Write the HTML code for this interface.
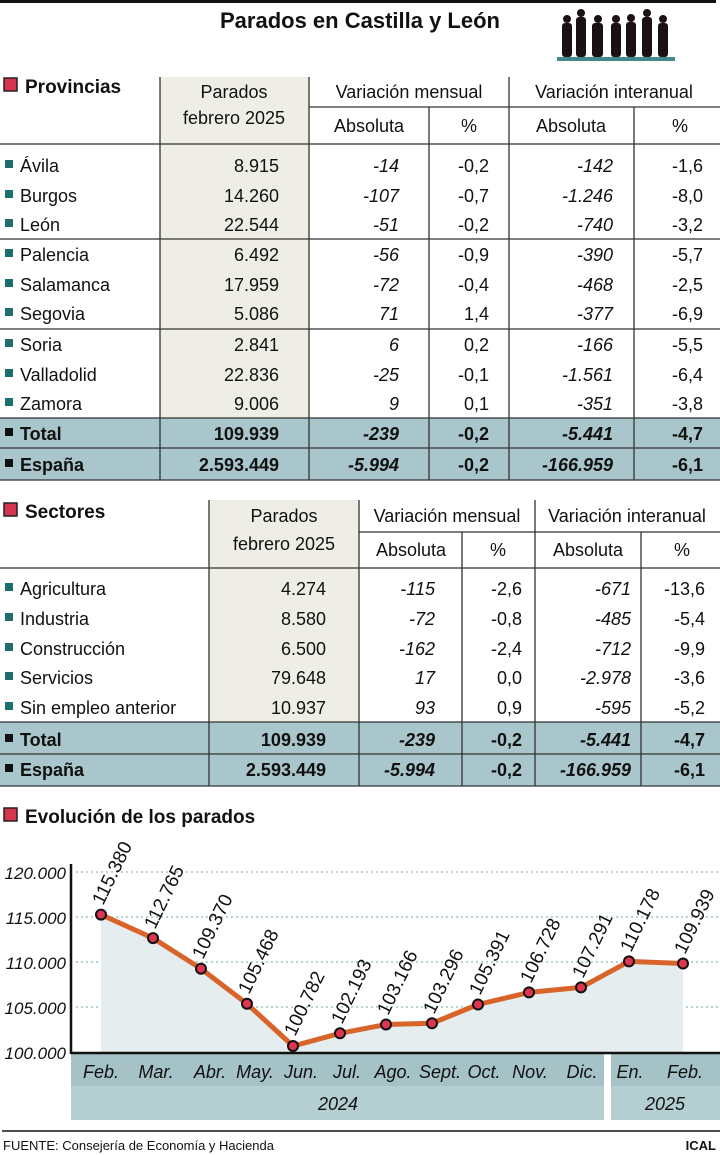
<!DOCTYPE html>
<html><head><meta charset="utf-8"><style>
html,body{margin:0;padding:0;background:#fff}
svg{display:block}
text{font-family:"Liberation Sans",sans-serif;fill:#111}
.t{font-size:18px}
.i{font-style:italic}
.b{font-weight:bold}
</style></head><body>
<svg width="720" height="1155" viewBox="0 0 720 1155" xmlns="http://www.w3.org/2000/svg">
<rect x="0" y="0" width="716" height="3" fill="#111"/>
<text x="360" y="28" text-anchor="middle" class="b" font-size="22">Parados en Castilla y León</text>
<g fill="#1a1212">
<rect x="557" y="57" width="118" height="4" fill="#3f8a8c"/>
<circle cx="567" cy="19" r="4"/><rect x="562" y="23" width="10" height="34" rx="3"/>
<circle cx="581" cy="13" r="4"/><rect x="576" y="17" width="10" height="40" rx="3"/>
<circle cx="598" cy="19" r="4"/><rect x="592" y="23" width="11" height="34" rx="3"/>
<circle cx="616" cy="19" r="4"/><rect x="611" y="23" width="10" height="34" rx="3"/>
<circle cx="631" cy="18" r="4"/><rect x="626" y="22" width="10" height="35" rx="3"/>
<circle cx="647" cy="13" r="4"/><rect x="642" y="17" width="10" height="40" rx="3"/>
<circle cx="663" cy="19" r="4"/><rect x="658" y="23" width="10" height="34" rx="3"/>
</g>

<rect x="4" y="78" width="13" height="13" fill="#d8344f" stroke="#222" stroke-width="1.5"/>
<text x="25" y="93" class="b" font-size="19">Provincias</text>
<rect x="160" y="77" width="149" height="341" fill="#efeee6"/>
<rect x="0" y="418" width="720" height="62" fill="#a9c6cc"/>
<g stroke="#333" stroke-width="1.3">
<line x1="309" y1="107" x2="720" y2="107"/>
<line x1="0" y1="144" x2="720" y2="144"/>
<line x1="0" y1="239" x2="720" y2="239"/>
<line x1="0" y1="329" x2="720" y2="329"/>
<line x1="0" y1="418" x2="720" y2="418"/>
<line x1="0" y1="448" x2="720" y2="448"/>
<line x1="0" y1="480" x2="720" y2="480"/>
<line x1="160" y1="77" x2="160" y2="480"/>
<line x1="309" y1="77" x2="309" y2="480"/>
<line x1="429" y1="107" x2="429" y2="480"/>
<line x1="509" y1="77" x2="509" y2="480"/>
<line x1="634" y1="107" x2="634" y2="480"/>
</g>
<g class="t" text-anchor="middle">
<text x="234" y="98">Parados</text>
<text x="234" y="124">febrero 2025</text>
<text x="409" y="98">Variación mensual</text>
<text x="614" y="98">Variación interanual</text>
<text x="369" y="132">Absoluta</text>
<text x="469" y="132">%</text>
<text x="571" y="132">Absoluta</text>
<text x="680" y="132">%</text>
</g>
<g class="t">
<g fill="#1f6e6e"><rect x="5" y="160" width="8" height="8"/><rect x="5" y="190" width="8" height="8"/><rect x="5" y="219" width="8" height="8"/><rect x="5" y="249" width="8" height="8"/><rect x="5" y="279" width="8" height="8"/><rect x="5" y="308" width="8" height="8"/><rect x="5" y="339" width="8" height="8"/><rect x="5" y="369" width="8" height="8"/><rect x="5" y="398" width="8" height="8"/></g>
<rect x="5" y="428" width="8" height="8" fill="#111"/><rect x="5" y="459" width="8" height="8" fill="#111"/>
<text x="20" y="172">Ávila</text><text x="20" y="202">Burgos</text><text x="20" y="231">León</text>
<text x="20" y="261">Palencia</text><text x="20" y="291">Salamanca</text><text x="20" y="320">Segovia</text>
<text x="20" y="351">Soria</text><text x="20" y="381">Valladolid</text><text x="20" y="410">Zamora</text>
<text x="20" y="440" class="b">Total</text><text x="20" y="471" class="b">España</text>
<g text-anchor="end">
<text x="279" y="172">8.915</text><text x="279" y="202">14.260</text><text x="279" y="231">22.544</text>
<text x="279" y="261">6.492</text><text x="279" y="291">17.959</text><text x="279" y="320">5.086</text>
<text x="279" y="351">2.841</text><text x="279" y="381">22.836</text><text x="279" y="410">9.006</text>
<text x="279" y="440" class="b">109.939</text><text x="279" y="471" class="b">2.593.449</text>
<g class="i">
<text x="399" y="172">-14</text><text x="399" y="202">-107</text><text x="399" y="231">-51</text>
<text x="399" y="261">-56</text><text x="399" y="291">-72</text><text x="399" y="320">71</text>
<text x="399" y="351">6</text><text x="399" y="381">-25</text><text x="399" y="410">9</text>
<text x="399" y="440" class="b">-239</text><text x="399" y="471" class="b">-5.994</text>
<text x="613" y="172">-142</text><text x="613" y="202">-1.246</text><text x="613" y="231">-740</text>
<text x="613" y="261">-390</text><text x="613" y="291">-468</text><text x="613" y="320">-377</text>
<text x="613" y="351">-166</text><text x="613" y="381">-1.561</text><text x="613" y="410">-351</text>
<text x="613" y="440" class="b">-5.441</text><text x="613" y="471" class="b">-166.959</text>
</g>
<text x="489" y="172">-0,2</text><text x="489" y="202">-0,7</text><text x="489" y="231">-0,2</text>
<text x="489" y="261">-0,9</text><text x="489" y="291">-0,4</text><text x="489" y="320">1,4</text>
<text x="489" y="351">0,2</text><text x="489" y="381">-0,1</text><text x="489" y="410">0,1</text>
<text x="489" y="440" class="b">-0,2</text><text x="489" y="471" class="b">-0,2</text>
<text x="703" y="172">-1,6</text><text x="703" y="202">-8,0</text><text x="703" y="231">-3,2</text>
<text x="703" y="261">-5,7</text><text x="703" y="291">-2,5</text><text x="703" y="320">-6,9</text>
<text x="703" y="351">-5,5</text><text x="703" y="381">-6,4</text><text x="703" y="410">-3,8</text>
<text x="703" y="440" class="b">-4,7</text><text x="703" y="471" class="b">-6,1</text>
</g>
</g>

<rect x="4" y="503" width="13" height="13" fill="#d8344f" stroke="#222" stroke-width="1.5"/>
<text x="25" y="518" class="b" font-size="19">Sectores</text>
<rect x="209" y="500" width="150" height="222" fill="#efeee6"/>
<rect x="0" y="722" width="720" height="64" fill="#a9c6cc"/>
<g stroke="#333" stroke-width="1.3">
<line x1="359" y1="532" x2="720" y2="532"/>
<line x1="0" y1="568" x2="720" y2="568"/>
<line x1="0" y1="722" x2="720" y2="722"/>
<line x1="0" y1="754" x2="720" y2="754"/>
<line x1="0" y1="786" x2="720" y2="786"/>
<line x1="209" y1="500" x2="209" y2="786"/>
<line x1="359" y1="500" x2="359" y2="786"/>
<line x1="462" y1="532" x2="462" y2="786"/>
<line x1="535" y1="500" x2="535" y2="786"/>
<line x1="641" y1="532" x2="641" y2="786"/>
</g>
<g class="t" text-anchor="middle">
<text x="284" y="522">Parados</text>
<text x="284" y="550">febrero 2025</text>
<text x="447" y="522">Variación mensual</text>
<text x="627" y="522">Variación interanual</text>
<text x="411" y="556">Absoluta</text>
<text x="498" y="556">%</text>
<text x="588" y="556">Absoluta</text>
<text x="682" y="556">%</text>
</g>
<g class="t">
<g fill="#1f6e6e"><rect x="5" y="583" width="8" height="8"/><rect x="5" y="613" width="8" height="8"/><rect x="5" y="643" width="8" height="8"/><rect x="5" y="672" width="8" height="8"/><rect x="5" y="702" width="8" height="8"/></g>
<rect x="5" y="734" width="8" height="8" fill="#111"/><rect x="5" y="764" width="8" height="8" fill="#111"/>
<text x="20" y="595">Agricultura</text><text x="20" y="625">Industria</text><text x="20" y="655">Construcción</text>
<text x="20" y="684">Servicios</text><text x="20" y="714">Sin empleo anterior</text>
<text x="20" y="746" class="b">Total</text><text x="20" y="776" class="b">España</text>
<g text-anchor="end">
<text x="326" y="595">4.274</text><text x="326" y="625">8.580</text><text x="326" y="655">6.500</text>
<text x="326" y="684">79.648</text><text x="326" y="714">10.937</text>
<text x="326" y="746" class="b">109.939</text><text x="326" y="776" class="b">2.593.449</text>
<g class="i">
<text x="435" y="595">-115</text><text x="435" y="625">-72</text><text x="435" y="655">-162</text>
<text x="435" y="684">17</text><text x="435" y="714">93</text>
<text x="435" y="746" class="b">-239</text><text x="435" y="776" class="b">-5.994</text>
<text x="631" y="595">-671</text><text x="631" y="625">-485</text><text x="631" y="655">-712</text>
<text x="631" y="684">-2.978</text><text x="631" y="714">-595</text>
<text x="631" y="746" class="b">-5.441</text><text x="631" y="776" class="b">-166.959</text>
</g>
<text x="522" y="595">-2,6</text><text x="522" y="625">-0,8</text><text x="522" y="655">-2,4</text>
<text x="522" y="684">0,0</text><text x="522" y="714">0,9</text>
<text x="522" y="746" class="b">-0,2</text><text x="522" y="776" class="b">-0,2</text>
<text x="705" y="595">-13,6</text><text x="705" y="625">-5,4</text><text x="705" y="655">-9,9</text>
<text x="705" y="684">-3,6</text><text x="705" y="714">-5,2</text>
<text x="705" y="746" class="b">-4,7</text><text x="705" y="776" class="b">-6,1</text>
</g>
</g>

<rect x="4" y="808" width="13" height="13" fill="#d8344f" stroke="#222" stroke-width="1.5"/>
<text x="25" y="823" class="b" font-size="19">Evolución de los parados</text>
<g stroke="#8fb7bc" stroke-width="1.3" stroke-dasharray="2,3">
<line x1="76" y1="872" x2="720" y2="872"/><line x1="76" y1="917" x2="720" y2="917"/>
<line x1="76" y1="962" x2="720" y2="962"/><line x1="76" y1="1007" x2="720" y2="1007"/>
</g>
<polygon fill="#e5edef" points="101,914.6 153,938.1 201,968.7 247,1003.8 293,1046 340,1033.3 386,1024.5 432,1023.3 478,1004.5 529,992.4 581,987.4 629,961.4 683,963.5 683,1052 101,1052"/>
<polyline fill="none" stroke="#d9642a" stroke-width="5" stroke-linejoin="round" points="101,914.6 153,938.1 201,968.7 247,1003.8 293,1046 340,1033.3 386,1024.5 432,1023.3 478,1004.5 529,992.4 581,987.4 629,961.4 683,963.5"/>
<g fill="#e0354f" stroke="#111" stroke-width="2">
<circle cx="101" cy="914.6" r="5"/><circle cx="153" cy="938.1" r="5"/><circle cx="201" cy="968.7" r="5"/><circle cx="247" cy="1003.8" r="5"/><circle cx="293" cy="1046" r="5"/><circle cx="340" cy="1033.3" r="5"/><circle cx="386" cy="1024.5" r="5"/><circle cx="432" cy="1023.3" r="5"/><circle cx="478" cy="1004.5" r="5"/><circle cx="529" cy="992.4" r="5"/><circle cx="581" cy="987.4" r="5"/><circle cx="629" cy="961.4" r="5"/><circle cx="683" cy="963.5" r="5"/>
</g>
<g font-size="19">
<text transform="translate(103,906) rotate(-64)">115.380</text>
<text transform="translate(155,930) rotate(-64)">112.765</text>
<text transform="translate(203,960) rotate(-64)">109.370</text>
<text transform="translate(249,995) rotate(-64)">105.468</text>
<text transform="translate(295,1037) rotate(-64)">100.782</text>
<text transform="translate(342,1025) rotate(-64)">102.193</text>
<text transform="translate(388,1016) rotate(-64)">103.166</text>
<text transform="translate(434,1015) rotate(-64)">103.296</text>
<text transform="translate(480,996) rotate(-64)">105.391</text>
<text transform="translate(531,984) rotate(-64)">106.728</text>
<text transform="translate(583,979) rotate(-64)">107.291</text>
<text transform="translate(631,953) rotate(-64)">110.178</text>
<text transform="translate(685,955) rotate(-64)">109.939</text>
</g>
<g font-size="17" class="i" text-anchor="end">
<text x="66" y="879">120.000</text><text x="66" y="924">115.000</text><text x="66" y="969">110.000</text>
<text x="66" y="1014">105.000</text><text x="66" y="1059">100.000</text>
</g>
<line x1="71" y1="864" x2="71" y2="1054" stroke="#111" stroke-width="2.5"/>
<rect x="71" y="1054" width="533" height="66" fill="#b4ced2"/>
<rect x="611" y="1054" width="109" height="66" fill="#b4ced2"/>
<rect x="71" y="1054" width="533" height="32" fill="#a5c2c7"/>
<rect x="611" y="1054" width="109" height="32" fill="#a5c2c7"/>
<line x1="71" y1="1053" x2="720" y2="1053" stroke="#111" stroke-width="2.5"/>
<g font-size="18" class="i" text-anchor="middle">
<text x="101" y="1078">Feb.</text><text x="156" y="1078">Mar.</text><text x="210" y="1078">Abr.</text>
<text x="255" y="1078">May.</text><text x="301" y="1078">Jun.</text><text x="347" y="1078">Jul.</text>
<text x="393" y="1078">Ago.</text><text x="440" y="1078">Sept.</text><text x="484" y="1078">Oct.</text>
<text x="530" y="1078">Nov.</text><text x="582" y="1078">Dic.</text><text x="630" y="1078">En.</text>
<text x="685" y="1078">Feb.</text>
<text x="338" y="1110">2024</text><text x="665" y="1110">2025</text>
</g>
<line x1="2" y1="1131" x2="720" y2="1131" stroke="#111" stroke-width="1.5"/>
<text x="3" y="1150" font-size="13">FUENTE: Consejería de Economía y Hacienda</text>
<text x="716" y="1150" font-size="13" class="b" text-anchor="end">ICAL</text>
</svg>
</body></html>
